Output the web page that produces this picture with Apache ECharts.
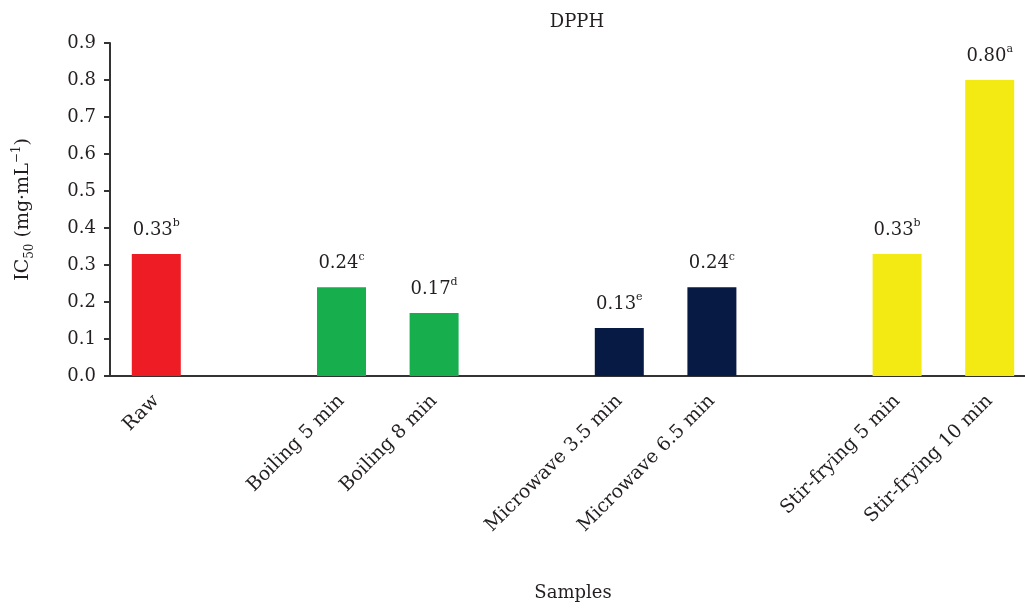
<!DOCTYPE html>
<html><head><meta charset="utf-8">
<script src="https://cdn.jsdelivr.net/npm/echarts@6/dist/echarts.min.js"></script>
<style>html,body{margin:0;padding:0;background:#fff}#c{width:1025px;height:608px}</style>
</head><body><div id="c"></div>
<script>
const categories = ['Raw', '', 'Boiling 5 min', 'Boiling 8 min', '', 'Microwave 3.5 min', 'Microwave 6.5 min', '', 'Stir-frying 5 min', 'Stir-frying 10 min'];
const values = [0.33, null, 0.24, 0.17, null, 0.13, 0.24, null, 0.33, 0.80];
const letters = ['b', '', 'c', 'd', '', 'e', 'c', '', 'b', 'a'];
const yTicks = [0.0, 0.1, 0.2, 0.3, 0.4, 0.5, 0.6, 0.7, 0.8, 0.9];
const barColors = ['#EE1C25', null, '#17AE4E', '#17AE4E', null, '#071A43', '#071A43', null, '#F3EA14', '#F3EA14'];

const FONT = '"DejaVu Serif", serif';
const TXT = '#231F20';
const richBase = {
  m: { fontFamily: FONT, fontSize: 18, color: TXT, lineHeight: 24, verticalAlign: 'middle' },
  sup: { fontFamily: FONT, fontSize: 11, color: TXT, lineHeight: 11, verticalAlign: 'top' },
  sub: { fontFamily: FONT, fontSize: 11, color: TXT, lineHeight: 11, verticalAlign: 'bottom' }
};
const richName = {
  m: { fontFamily: FONT, fontSize: 19, color: TXT, lineHeight: 25, verticalAlign: 'middle' },
  sup: { fontFamily: FONT, fontSize: 12, color: TXT, lineHeight: 12, verticalAlign: 'top' },
  sub: { fontFamily: FONT, fontSize: 12, color: TXT, lineHeight: 12, verticalAlign: 'bottom' }
};
const chart = echarts.init(document.getElementById('c'));
chart.setOption({
  backgroundColor: '#fff',
  animation: false,
  title: { text: 'DPPH', left: 572, top: 8, textAlign: 'center',
    textStyle: { fontFamily: FONT, fontSize: 18, fontWeight: 'normal', color: TXT } },
  grid: { left: 110, right: -11, top: 43, bottom: 232, containLabel: false, outerBoundsMode: 'none' },
  xAxis: {
    type: 'category', data: categories,
    axisLine: { lineStyle: { color: '#333', width: 2 } },
    axisTick: { show: false },
    axisLabel: { interval: 0, rotate: 45, margin: 22, fontFamily: FONT, fontSize: 19, color: TXT },
    name: 'Samples', nameLocation: 'middle', nameGap: 208,
    nameTextStyle: { fontFamily: FONT, fontSize: 18, color: TXT }
  },
  yAxis: {
    type: 'value', min: yTicks[0], max: yTicks[yTicks.length - 1], interval: 0.1,
    splitLine: { show: false },
    axisLine: { show: true, lineStyle: { color: '#333', width: 2 } },
    axisTick: { show: true, inside: false, length: 6, lineStyle: { color: '#333', width: 2 } },
    axisLabel: { margin: 14, fontFamily: FONT, fontSize: 18, color: TXT, formatter: v => v.toFixed(1) },
    name: '{m|IC}{sub|50}{m| (mg·mL}{sup|−1}{m|)}', nameLocation: 'middle', nameGap: 74, nameRotate: 90,
    nameTextStyle: { fontFamily: FONT, fontSize: 19, color: TXT, rich: richName }
  },
  series: [{
    type: 'bar', barWidth: 49,
    data: values.map((v, i) => v === null ? null : { value: v, itemStyle: { color: barColors[i] } }),
    label: {
      show: true, position: 'top', distance: 12,
      formatter: p => '{m|' + p.value.toFixed(2) + '}{sup|' + letters[p.dataIndex] + '}',
      rich: richBase
    }
  }]
});
</script></body></html>
